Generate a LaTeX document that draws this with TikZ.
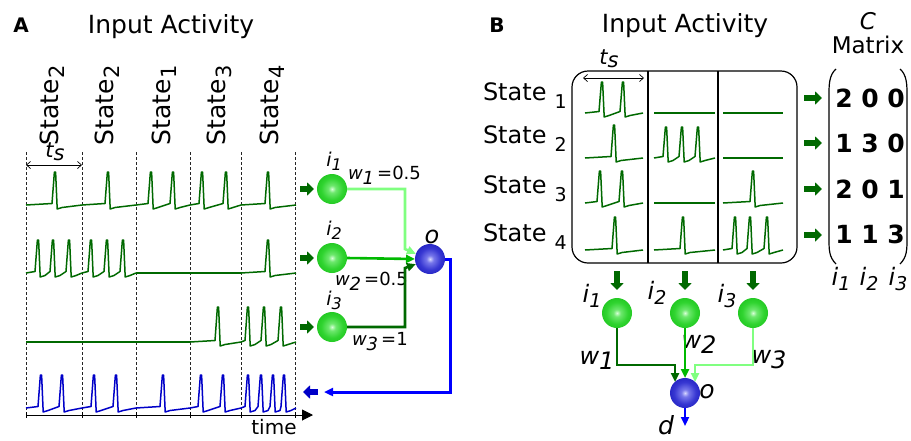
\documentclass[tikz,border=0pt]{standalone}
\usepackage{fontspec}
\setmainfont{DejaVu Sans}
\usepackage{graphicx}
\usetikzlibrary{arrows.meta,calc}
\definecolor{dkg}{RGB}{0,105,0}
\definecolor{mdg}{RGB}{0,185,0}
\definecolor{ltg}{RGB}{128,255,128}
\definecolor{trb}{RGB}{0,0,200}
\definecolor{cnb}{RGB}{0,0,255}
\definecolor{gcA}{RGB}{215,255,215}
\definecolor{gcB}{RGB}{110,232,110}
\definecolor{gcC}{RGB}{48,212,48}
\definecolor{gcD}{RGB}{28,195,28}
\definecolor{gcE}{RGB}{10,160,10}
\definecolor{bcA}{RGB}{215,215,255}
\definecolor{bcB}{RGB}{120,120,235}
\definecolor{bcC}{RGB}{55,55,210}
\definecolor{bcD}{RGB}{30,30,190}
\definecolor{bcE}{RGB}{10,10,130}
\pgfdeclareradialshading{gball}{\pgfpoint{0bp}{0bp}}{color(0bp)=(gcA); color(6bp)=(gcB); color(18bp)=(gcC); color(30bp)=(gcD); color(38bp)=(gcE); color(100bp)=(gcE)}
\pgfdeclareradialshading{bball}{\pgfpoint{0bp}{0bp}}{color(0bp)=(bcA); color(6bp)=(bcB); color(18bp)=(bcC); color(30bp)=(bcD); color(38bp)=(bcE); color(100bp)=(bcE)}
\newcommand\fs[1]{\fontsize{#1}{#1}\selectfont}
\newcommand\lo[2]{\raisebox{-#1}{#2}}
% #1 style, #2 baseline, #3 x0, #4 x1, #5 spikes, #6 height
\newcommand\spk[6]{\draw[#1] (#3,#2) \foreach \s in {#5} { -- (\s-3,#2-1.5) -- (\s-0.6,#2-#6) -- (\s+0.6,#2-#6) -- (\s+2.2,#2+4) -- (\s+7,#2+2.5) } -- (#4,#2);}
\newcommand\flt[4]{\draw[#1] (#3,#2) -- (#4,#2);}
\begin{document}
\begin{tikzpicture}[x=1pt,y=-1pt,inner sep=0pt,outer sep=0pt,
  trace/.style={dkg, line width=1.5pt, line join=round},
  btrace/.style={trb, line width=1.5pt, line join=round},
  blkg/.style={dkg, line width=6pt, -{Triangle[length=7pt,width=13pt]}},
  blkb/.style={trb, line width=6pt, -{Triangle[length=7pt,width=13pt]}},
  vdash/.style={dash pattern=on 3pt off 2pt, line width=0.7pt, black!85},
  conn/.style={line width=2.6pt, -{Triangle[length=9pt,width=8pt]}},
  gneur/.style={circle, minimum size=30pt, shading=gball},
  bneur/.style={circle, minimum size=30pt, shading=bball},
  tsarrow/.style={line width=0.7pt, {Straight Barb[length=4pt,width=7pt]}-{Straight Barb[length=4pt,width=7pt]}}]
\useasboundingbox (0,0) rectangle (911,440);
\fill[white] (0,0) rectangle (911,440);

% ---------------- Panel A ----------------
\node[anchor=base, font=\bfseries\fs{20}] (labA) at (21,32) {A};
\node[anchor=base, font=\fs{25}] (titA) at (171,33) {Input Activity};
\foreach \x/\n [count=\k] in {58/2,113/2,170/1,225/3,278/4}
  \node[rotate=90, anchor=base west, font=\fs{25}] (stA\k) at (\x,145) {State\lo{6pt}{\fs{21}\n}};
\foreach \x in {26,82,136,190,241,295}
  \draw[vdash] (\x,152) -- (\x,413);
\node[anchor=base, font=\itshape\fs{21}] (tsA) at (55,157) {t\lo{3pt}{s}};
\coordinate (tsA1) at (26,165); \coordinate (tsA2) at (82,165);
\draw[tsarrow] (tsA1) -- (tsA2);

% trace 1
\spk{trace}{205}{26}{82}{55}{33}
\spk{trace}{205}{82}{136}{108}{33}
\spk{trace}{205}{136}{190}{151,173}{33}
\spk{trace}{205}{190}{241}{202,226}{33}
\spk{trace}{205}{241}{296}{268}{33}
% trace 2
\spk{trace}{273}{26}{82}{38,53,69}{33}
\spk{trace}{273}{82}{136}{91,107,123}{33}
\flt{trace}{273}{136}{241}
\spk{trace}{273}{241}{296}{268}{33}
% trace 3
\flt{trace}{342}{26}{190}
\spk{trace}{342}{190}{241}{218}{35}
\spk{trace}{342}{241}{296}{248,264,281}{35}
% trace 4 (output)
\spk{btrace}{408}{26}{82}{41,62}{33}
\spk{btrace}{408}{82}{136}{94,116}{33}
\spk{btrace}{408}{136}{190}{163}{33}
\spk{btrace}{408}{190}{241}{201,223}{33}
\spk{btrace}{408}{241}{296}{248,261,273,284}{33}

% time axis
\coordinate (ax0) at (26,415); \coordinate (ax1) at (313,415);
\draw[line width=1pt, -{Triangle[length=11pt,width=11pt]}] (ax0) -- (ax1);
\foreach \x in {26,82,136,190,241,295}
  \draw[line width=0.7pt] (\x,412) -- (\x,418);
\node[anchor=base, font=\fs{20}] (timeA) at (274,434) {time};

% neurons A
\node[gneur] (i1) at (332,189) {};
\node[gneur] (i2) at (332,258) {};
\node[gneur] (i3) at (332,327) {};
\node[bneur] (o) at (430,259) {};
\foreach \y in {189,258,327} \draw[blkg] (300,\y) -- (314,\y);
\node[anchor=base, font=\itshape\fs{19}] (li1) at (334,166) {i\lo{4pt}{\fs{16}1}};
\node[anchor=base, font=\itshape\fs{19}] (li2) at (334,235) {i\lo{4pt}{\fs{16}2}};
\node[anchor=base, font=\itshape\fs{19}] (li3) at (334,305) {i\lo{4pt}{\fs{16}3}};
\node[anchor=base, font=\itshape\fs{24}] (lo) at (432,243) {o};
\node[anchor=base west, font=\fs{18}] (w1) at (348,179) {\textit{w\lo{5pt}{1}}\,=0.5};
\node[anchor=base west, font=\fs{18}] (w2) at (335,285) {\textit{w\lo{5pt}{2}}\,=0.5};
\node[anchor=base west, font=\fs{18}] (w3) at (352,345) {\textit{w\lo{5pt}{3}}\,=1};
\draw[conn, ltg] (i1.east) -- (405,189) -- (405,249) -- (o.160);
\draw[conn, mdg] (i2.east) -- (o.west);
\draw[conn, dkg] (i3.east) -- (405,327) -- (405,268) -- (o.200);
\coordinate (fbA) at (324,392);
\draw[conn, cnb, line width=3pt] (o.east) -- (450,259) -- (450,392) -- (fbA);
\draw[blkb] (318,392) -- (303,392);

% ---------------- Panel B ----------------
\node[anchor=base, font=\bfseries\fs{20}] (labB) at (497,32) {B};
\node[anchor=base, font=\fs{25}] (titB) at (685,32) {Input Activity};
\node[anchor=base, font=\itshape\fs{23}] (lC) at (868,29) {C};
\node[anchor=base, font=\fs{23}] (lM) at (868,53) {Matrix};
\node[anchor=base, font=\itshape\fs{21}] (tsB) at (609,64) {t\lo{3pt}{s}};
\coordinate (tsB1) at (583,78); \coordinate (tsB2) at (644,78);
\draw[tsarrow] (tsB1) -- (tsB2);
\draw[line width=1.2pt, rounded corners=16pt] (572,71) rectangle (797,263);
\draw[line width=1.2pt] (648,71) -- (648,263) (718,71) -- (718,263);
\foreach \b/\n [count=\k] in {100/1,143/2,193/3,241/4}
  \node[anchor=base west, font=\fs{24}] (stB\k) at (483,\b) {State\hspace{8pt}\lo{8pt}{\fs{19}\n}};
% traces B
\spk{trace}{113}{585}{643}{602,623}{31}
\flt{trace}{113}{654}{715}
\flt{trace}{113}{723}{783}
\spk{trace}{158}{585}{643}{614}{33}
\spk{trace}{158}{654}{715}{666,682,698}{31}
\flt{trace}{158}{723}{783}
\spk{trace}{203}{585}{643}{600,622}{32}
\flt{trace}{203}{654}{715}
\spk{trace}{203}{723}{783}{753}{32}
\spk{trace}{250}{585}{643}{615}{33}
\spk{trace}{250}{654}{715}{683}{33}
\spk{trace}{250}{723}{783}{735,750,767}{33}
% arrows to matrix
\foreach \y in {98,143,189,235} \draw[blkg] (804,\y) -- (822,\y);
% matrix
\draw[line width=1.2pt] (836,69) .. controls (829,75) and (829,85) .. (829,95) -- (829,238) .. controls (829,250) and (829,257) .. (836,264);
\draw[line width=1.2pt] (900,69) .. controls (907,75) and (907,85) .. (907,95) -- (907,238) .. controls (907,250) and (907,257) .. (900,264);
\foreach \b/\a/\c/\d [count=\r] in {107/2/0/0,152/1/3/0,198/2/0/1,243/1/1/3}{
  \node[anchor=base, font=\bfseries\fs{25}] (m\r a) at (844,\b) {\a};
  \node[anchor=base, font=\bfseries\fs{25}] (m\r b) at (870,\b) {\c};
  \node[anchor=base, font=\bfseries\fs{25}] (m\r c) at (896,\b) {\d};
}
\node[anchor=base, font=\itshape\fs{24}] (ci1) at (841,285) {i\lo{5pt}{\fs{19}1}};
\node[anchor=base, font=\itshape\fs{24}] (ci2) at (869,285) {i\lo{5pt}{\fs{19}2}};
\node[anchor=base, font=\itshape\fs{24}] (ci3) at (898,285) {i\lo{5pt}{\fs{19}3}};
% neurons B
\node[gneur] (i1b) at (617,313) {};
\node[gneur] (i2b) at (685,313) {};
\node[gneur] (i3b) at (753,313) {};
\node[bneur] (ob) at (685,393) {};
\foreach \x in {617,685,753} \draw[blkg] (\x,271) -- (\x,290);
\node[font=\itshape\fs{24}] (lb1) at (592,296) {i\lo{5pt}{\fs{19}1}};
\node[font=\itshape\fs{24}] (lb2) at (657,293) {i\lo{5pt}{\fs{19}2}};
\node[font=\itshape\fs{24}] (lb3) at (727,296) {i\lo{5pt}{\fs{19}3}};
\node[font=\itshape\fs{24}] (wb1) at (597,360) {w\lo{5pt}{1}};
\node[font=\itshape\fs{24}] (wb2) at (699,344) {w\lo{5pt}{2}};
\node[font=\itshape\fs{24}] (wb3) at (769,360) {w\lo{5pt}{3}};
\node[anchor=base, font=\itshape\fs{25}] (lob) at (707,398) {o};
\node[anchor=base, font=\itshape\fs{25}] (ld) at (666,434) {d};
\draw[conn, dkg] (i1b.south) -- (617,365) -- (675,365) -- ($(ob)+(-10,-11)$);
\draw[conn, mdg] (i2b.south) -- (ob.north);
\draw[conn, ltg] (i3b.south) -- (753,365) -- (695,365) -- ($(ob)+(10,-11)$);
\coordinate (dout) at (685,426);
\draw[conn, cnb, line width=2.2pt] (ob.south) -- (dout);
\end{tikzpicture}
\end{document}
